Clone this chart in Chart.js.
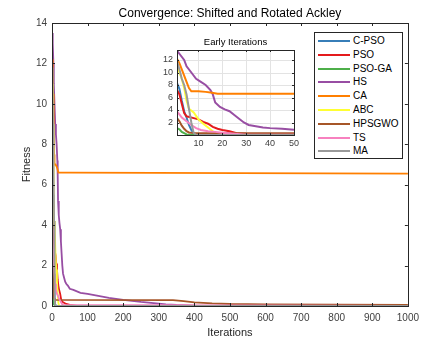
<!DOCTYPE html>
<html>
<head>
<meta charset="utf-8">
<script src="https://cdn.jsdelivr.net/npm/chart.js@4.4.0/dist/chart.umd.min.js"></script>
<style>
  body { margin: 0; background: #fff; font-family: "Liberation Sans", Arial, sans-serif; }
  #wrap { position: relative; width: 425px; height: 341px; }
  #mainCanvas { position: absolute; left: 0; top: 0; }
  #insetCanvas { position: absolute; left: 140px; top: 32px; }
  #legend { position: absolute; left: 314px; top: 32px; width: 87px; height: 125px;
            border: 1px solid #262626; background: #fff; font-size: 10px; color: #000; }
  .row { position: absolute; left: 0; height: 12px; line-height: 12px; }
  .row span.ln { position: absolute; left: 3px; top: 5px; width: 32px; height: 2px; }
  .row span.tx { position: absolute; left: 38px; top: 0; white-space: nowrap; }
</style>
</head>
<body>
<div id="wrap">
  <canvas id="mainCanvas" width="425" height="341"></canvas>
  <canvas id="insetCanvas" width="162" height="122"></canvas>
  <div id="legend"></div>
</div>
<script>
    /********** DATI **********/
    const seriesNames = ["C-PSO", "PSO", "PSO-GA", "HS", "CA", "ABC", "HPSGWO", "TS", "MA"];
    const seriesColors = ["#377eb8", "#e41a1c", "#4daf4a", "#984ea3", "#ff7f00", "#ffff33", "#a65628", "#f781bf", "#999999"];

    const cpsoIter = [1, 2, 3, 4, 5, 6, 7, 8, 9, 15, 1000];
    const cpsoFit  = [8.3, 7.4, 5.5, 3.8, 2.8, 1.6, 0.8, 0.3, 0.05, 0.01, 0.01];

    const psoIter = [1, 2, 3, 4, 5, 8, 10, 12, 14, 16, 18, 20, 23, 26, 30, 40, 50, 70, 1000];
    const psoFit  = [7.2, 6.5, 5.0, 3.5, 3.0, 2.7, 2.5, 2.1, 1.8, 1.3, 1.0, 0.8, 0.6, 0.3, 0.2, 0.1, 0.05, 0.01, 0.01];

    const psogaIter = [1, 2, 3, 4, 5, 8, 1000];
    const psogaFit  = [1.1, 0.9, 0.5, 0.3, 0.1, 0.02, 0.01];

    const hsIter = [1, 2, 4, 5, 7, 9, 11, 13, 15, 16, 17, 19, 21, 23, 25, 27, 29, 31, 34, 37, 40, 45, 50,
                    60, 80, 100, 130, 160, 200, 250, 300, 320, 350, 400, 1000];
    const hsFit  = [13.5, 13.0, 12.0, 11.0, 10.0, 9.0, 8.5, 8.0, 7.2, 6.5, 5.2, 4.5, 4.1, 3.8, 3.2, 2.6, 2.0, 1.6, 1.4, 1.2, 1.1, 1.0, 0.85,
                    0.8, 0.65, 0.6, 0.5, 0.4, 0.3, 0.2, 0.12, 0.08, 0.05, 0.02, 0.01];

    const caIter = [1, 2, 3, 4, 5, 6, 7, 10, 13, 15, 18, 50, 1000];
    const caFit  = [12.2, 11.5, 10.5, 9.5, 8.5, 7.5, 7.0, 7.0, 6.9, 6.8, 6.6, 6.6, 6.55];

    const abcIter = [1, 2, 3, 4, 5, 6, 8, 10, 12, 14, 16, 18, 20, 1000];
    const abcFit  = [11.0, 10.0, 9.0, 7.5, 5.5, 4.2, 3.6, 2.5, 1.8, 1.2, 0.6, 0.15, 0.02, 0.01];

    const hpsIter = [1, 2, 3, 4, 5, 6, 8, 340, 370, 400, 450, 500, 600, 800, 1000];
    const hpsFit  = [2.7, 2.2, 1.5, 1.0, 0.6, 0.4, 0.3, 0.29, 0.24, 0.18, 0.13, 0.1, 0.08, 0.07, 0.06];

    const tsIter = [1, 2, 3, 5, 7, 9, 11, 14, 17, 20, 25, 30, 1000];
    const tsFit  = [3.8, 3.3, 2.8, 2.2, 1.6, 1.1, 0.8, 0.6, 0.5, 0.35, 0.2, 0.05, 0.01];

    const maIter = [1, 2, 3, 4, 5, 6, 7, 8, 9, 1000];
    const maFit  = [11.8, 10.5, 9.0, 8.0, 6.5, 4.2, 2.0, 0.3, 0.02, 0.01];

    const mainXTicks = [0, 100, 200, 300, 400, 500, 600, 700, 800, 900, 1000];
    const mainYTicks = [0, 2, 4, 6, 8, 10, 12, 14];
    const insetXTicks = [10, 20, 30, 40, 50];
    const insetYTicks = [2, 4, 6, 8, 10, 12];

    const allIters = [cpsoIter, psoIter, psogaIter, hsIter, caIter, abcIter, hpsIter, tsIter, maIter];
    const allFits  = [cpsoFit, psoFit, psogaFit, hsFit, caFit, abcFit, hpsFit, tsFit, maFit];

    const FONT = '"Liberation Sans", Arial, sans-serif';
    const AXIS = '#262626';

    function buildDatasets(width) {
      return seriesNames.map((name, i) => ({
        label: name,
        data: allIters[i].map((x, k) => ({ x: x, y: allFits[i][k] })),
        borderColor: seriesColors[i],
        backgroundColor: seriesColors[i],
        borderWidth: width,
        pointRadius: 0,
        tension: 0,
        fill: false,
        order: -i   // MATLAB: l'ultima serie sta sopra
      }));
    }

    // cornice + tacche interne stile MATLAB
    function frameTicks(xTicks, yTicks, len, grid) {
      return {
        id: 'frame',
        beforeDatasetsDraw(chart) {
          if (!grid) return;
          const { ctx, chartArea: a, scales } = chart;
          ctx.save();
          ctx.strokeStyle = '#e3e3e3';
          ctx.lineWidth = 1;
          xTicks.forEach(v => {
            const px = Math.round(scales.x.getPixelForValue(v)) + 0.5;
            ctx.beginPath(); ctx.moveTo(px, a.top); ctx.lineTo(px, a.bottom); ctx.stroke();
          });
          yTicks.forEach(v => {
            const py = Math.round(scales.y.getPixelForValue(v)) + 0.5;
            ctx.beginPath(); ctx.moveTo(a.left, py); ctx.lineTo(a.right, py); ctx.stroke();
          });
          ctx.restore();
        },
        afterDraw(chart) {
          const { ctx, chartArea: a, scales } = chart;
          ctx.save();
          ctx.strokeStyle = AXIS;
          ctx.lineWidth = 1;
          xTicks.forEach(v => {
            const px = Math.round(scales.x.getPixelForValue(v)) + 0.5;
            ctx.beginPath();
            ctx.moveTo(px, a.bottom); ctx.lineTo(px, a.bottom - len);
            ctx.moveTo(px, a.top); ctx.lineTo(px, a.top + len);
            ctx.stroke();
          });
          yTicks.forEach(v => {
            const py = Math.round(scales.y.getPixelForValue(v)) + 0.5;
            ctx.beginPath();
            ctx.moveTo(a.left, py); ctx.lineTo(a.left + len, py);
            ctx.moveTo(a.right, py); ctx.lineTo(a.right - len, py);
            ctx.stroke();
          });
          ctx.strokeRect(Math.round(a.left) + 0.5, Math.round(a.top) + 0.5,
                         Math.round(a.right - a.left), Math.round(a.bottom - a.top));
          ctx.restore();
        }
      };
    }

    function textPlugin(title, titleSize, xLabel, yLabel) {
      return {
        id: 'texts',
        afterDraw(chart) {
          const { ctx, chartArea: a } = chart;
          ctx.save();
          ctx.fillStyle = '#000';
          ctx.textAlign = 'center';
          ctx.textBaseline = 'bottom';
          ctx.font = titleSize + 'px ' + FONT;
          ctx.fillText(title, (a.left + a.right) / 2, a.top - 3);
          if (xLabel) {
            ctx.font = '11px ' + FONT;
            ctx.fillStyle = '#262626';
            ctx.textBaseline = 'middle';
            ctx.fillText(xLabel, (a.left + a.right) / 2, a.bottom + 27);
          }
          if (yLabel) {
            ctx.translate(27, (a.top + a.bottom) / 2);
            ctx.rotate(-Math.PI / 2);
            ctx.font = '11px ' + FONT;
            ctx.fillStyle = '#262626';
            ctx.textBaseline = 'middle';
            ctx.fillText(yLabel, 0, 0);
          }
          ctx.restore();
        }
      };
    }

    const whiteBg = {
      id: 'whiteBg',
      beforeDraw(chart) {
        const ctx = chart.ctx;
        ctx.save();
        ctx.fillStyle = '#fff';
        ctx.fillRect(0, 0, chart.width, chart.height);
        ctx.restore();
      }
    };

    const plainLabel = v => String(v);
    const noGrid = { display: false, drawTicks: false };

    /********** GRAFICO PRINCIPALE **********/
    new Chart(document.getElementById('mainCanvas').getContext('2d'), {
      type: 'line',
      data: { datasets: buildDatasets(1.8) },
      plugins: [whiteBg, frameTicks(mainXTicks, mainYTicks, 3, false),
                textPlugin('Convergence: Shifted and Rotated Ackley', 12, 'Iterations', 'Fitness')],
      options: {
        responsive: false,
        animation: false,
        devicePixelRatio: 1,
        parsing: false,
        layout: { padding: { left: 0, top: 23, right: 15, bottom: 0 } },
        plugins: { legend: { display: false }, tooltip: { enabled: false }, title: { display: false } },
        scales: {
          x: {
            type: 'linear', min: 0, max: 1000,
            grid: noGrid,
            border: { display: false },
            afterFit: s => { s.height = 35; },
            afterBuildTicks: s => { s.ticks = mainXTicks.map(v => ({ value: v })); },
            ticks: { color: '#404040', font: { size: 10, family: FONT }, padding: 6, maxRotation: 0,
                     autoSkip: false, callback: plainLabel }
          },
          y: {
            type: 'linear', min: 0, max: 14,
            grid: noGrid,
            border: { display: false },
            afterFit: s => { s.width = 52; },
            afterBuildTicks: s => { s.ticks = mainYTicks.map(v => ({ value: v })); },
            ticks: { color: '#404040', font: { size: 10, family: FONT }, padding: 5, autoSkip: false, callback: plainLabel }
          }
        }
      }
    });

    /********** RIQUADRO: PRIME ITERAZIONI **********/
    new Chart(document.getElementById('insetCanvas').getContext('2d'), {
      type: 'line',
      data: { datasets: buildDatasets(2) },
      plugins: [whiteBg, frameTicks(insetXTicks, insetYTicks, 2, true),
                textPlugin('Early Iterations', 9.5, null, null)],
      options: {
        responsive: false,
        animation: false,
        devicePixelRatio: 1,
        parsing: false,
        layout: { padding: { left: 0, top: 18, right: 8, bottom: 0 } },
        plugins: { legend: { display: false }, tooltip: { enabled: false }, title: { display: false } },
        scales: {
          x: {
            type: 'linear', min: 1, max: 50,
            grid: noGrid,
            border: { display: false },
            afterFit: s => { s.height = 19; },
            afterBuildTicks: s => { s.ticks = insetXTicks.map(v => ({ value: v })); },
            ticks: { color: '#404040', font: { size: 9, family: FONT }, padding: 3, maxRotation: 0,
                     autoSkip: false, callback: plainLabel }
          },
          y: {
            type: 'linear', min: 0, max: 13.6,
            grid: noGrid,
            border: { display: false },
            afterFit: s => { s.width = 37; },
            afterBuildTicks: s => { s.ticks = insetYTicks.map(v => ({ value: v })); },
            ticks: { color: '#404040', font: { size: 9, family: FONT }, padding: 4, autoSkip: false, callback: plainLabel }
          }
        }
      }
    });

    /********** LEGENDA **********/
    const legend = document.getElementById('legend');
    seriesNames.forEach((name, i) => {
      const row = document.createElement('div');
      row.className = 'row';
      row.style.top = (2 + i * 13.8) + 'px';
      row.innerHTML = '<span class="ln" style="background:' + seriesColors[i] + '"></span><span class="tx">' + name + '</span>';
      legend.appendChild(row);
    });
</script>
</body>
</html>
